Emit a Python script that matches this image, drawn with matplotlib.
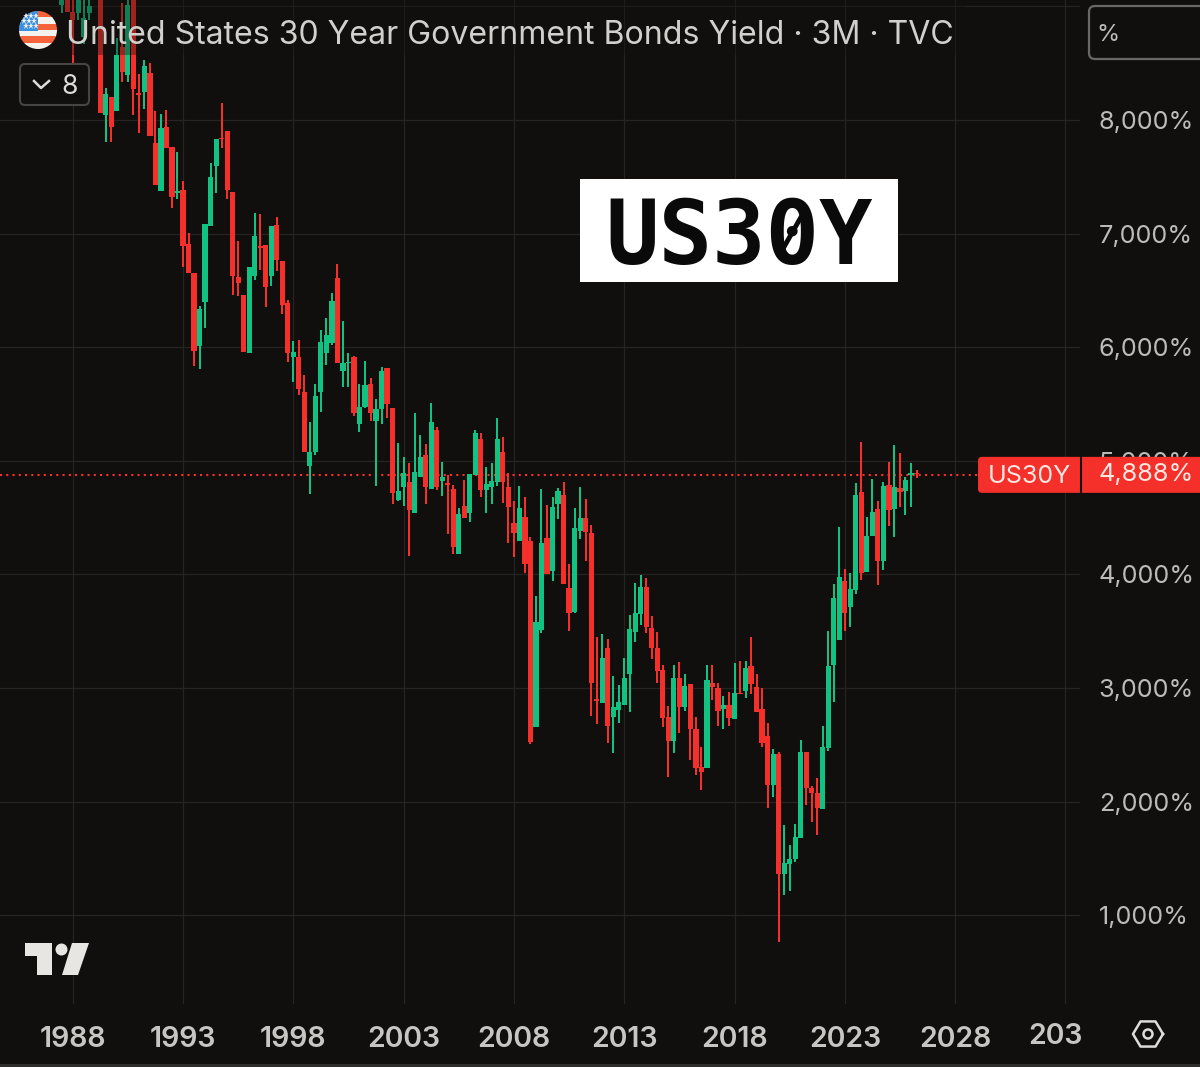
import numpy as np
import matplotlib
matplotlib.use("Agg")
import matplotlib.pyplot as plt
from matplotlib.patches import Rectangle, FancyBboxPatch, Circle, Polygon

title = "United States 30 Year Government Bonds Yield · 3M · TVC"
start_year = 1987.5
opens = [9.01,9.40,8.95,8.94,8.73,8.94,9.20,9.50,8.044,8.205,8.079,8.645,8.396,9.20,8.234,8.243,8.416,7.794,7.375,7.941,7.759,7.354,7.384,6.908,6.656,
6.010,6.401,7.067,7.598,7.844,7.906,7.369,6.621,6.459,5.952,6.627,6.894,6.900,6.627,7.076,6.762,6.386,5.911,5.917,5.608,
4.957,5.074,5.602,5.945,6.033,6.606,5.793,5.857,5.916,5.323,5.470,5.673,5.353,5.453,5.813,5.461,4.655,4.766,4.816,4.537,4.860,5.051,4.754,5.271,4.819,
4.807,4.748,4.176,4.605,4.543,4.875,5.188,4.743,4.772,4.816,5.074,4.766,
4.450,4.297,4.508,4.297,2.660,3.511,4.318,4.033,4.620,4.699,3.877,3.666,4.385,4.494,4.362,2.900,2.871,3.349,2.742,2.807,2.851,3.123,3.496,3.652,3.892,3.531,3.355,3.159,2.748,
2.537,3.085,2.836,3.032,2.636,2.302,2.299,3.047,3.003,2.815,2.848,2.724,2.959,2.977,3.197,3.006,2.818,
2.578,2.143,2.419,1.363,1.451,1.492,1.680,2.440,2.117,2.079,1.935,2.469,3.203,3.423,3.942,3.710,3.863,4.728,4.018,4.341,4.573,4.121,4.784,4.573,4.758,4.734,4.875,4.896]
highs = [9.50,9.60,9.10,9.30,9.10,9.20,9.60,9.60,8.278,8.205,8.719,9.03,9.20,9.30,8.405,8.528,8.504,8.079,8.053,8.088,7.759,7.721,7.463,7.008,6.656,
6.363,7.084,7.618,7.830,8.152,7.906,7.369,6.935,6.459,6.709,7.184,7.172,6.900,7.070,7.149,6.762,6.415,6.058,6.063,5.755,
5.338,5.676,6.151,6.254,6.474,6.732,6.233,5.945,5.922,5.673,5.881,5.725,5.543,5.822,5.813,5.461,5.153,5.036,4.983,5.417,5.227,5.145,5.511,5.300,4.992,
4.875,4.787,4.581,4.831,4.883,5.271,5.247,4.948,4.977,5.379,5.212,4.895,
4.649,4.778,4.684,4.332,3.810,4.749,4.611,4.678,4.758,4.816,4.089,4.587,4.772,4.661,4.435,3.446,3.475,3.431,3.106,3.027,3.261,3.643,3.921,3.992,3.965,3.637,3.496,3.203,2.842,
3.203,3.232,3.120,3.032,2.748,2.484,3.203,3.203,3.041,2.930,2.968,3.217,3.241,3.238,3.452,3.120,2.997,
2.689,2.460,2.440,1.794,1.618,1.800,2.542,2.440,2.140,2.211,2.669,3.502,3.915,4.420,4.045,4.009,4.802,5.162,4.502,4.837,4.649,4.816,4.992,5.139,5.066,4.860,4.984,4.919]
lows = [8.94,8.95,8.50,8.88,8.67,8.88,9.06,8.064,7.809,7.809,8.079,8.337,8.337,8.044,7.882,8.094,7.859,7.428,7.375,7.750,7.222,7.301,6.709,6.650,5.837,
5.808,6.166,7.067,7.354,7.750,7.304,6.459,6.451,5.961,5.952,6.591,6.679,6.351,6.539,6.674,6.292,5.867,5.697,5.579,5.080,
4.707,5.051,5.426,5.843,6.019,5.857,5.652,5.646,5.394,5.250,5.461,5.353,4.778,5.323,5.373,4.619,4.649,4.602,4.162,4.537,4.860,4.619,4.754,4.743,4.690,
4.355,4.179,4.176,4.493,4.464,4.875,4.678,4.537,4.619,4.778,4.625,4.279,
4.150,4.297,4.015,2.507,2.660,3.487,4.004,3.945,4.485,3.916,3.505,3.657,4.309,4.121,2.754,2.683,2.865,2.513,2.431,2.689,2.851,2.792,3.408,3.555,3.481,3.252,3.041,2.660,2.214,
2.431,2.607,2.801,2.366,2.234,2.103,2.293,2.895,2.666,2.642,2.666,2.724,2.947,2.915,2.947,2.792,2.478,
1.941,2.038,0.764,1.178,1.210,1.471,1.680,1.970,1.823,1.706,1.935,2.449,2.880,3.423,3.502,3.540,3.827,3.951,4.018,4.341,3.907,4.039,4.426,4.332,4.596,4.523,4.590,4.846]
closes = [9.30,8.95,8.88,9.20,8.90,9.00,9.40,8.064,8.226,7.941,8.572,8.425,9.012,8.27,8.220,8.475,7.859,7.428,7.932,7.750,7.325,7.375,6.891,6.650,5.969,
6.333,7.084,7.495,7.830,7.830,7.384,6.627,6.568,5.961,6.709,6.979,6.870,6.527,7.070,6.767,6.371,5.952,5.955,5.629,5.080,
5.074,5.573,6.048,6.107,6.409,5.857,5.857,5.872,5.417,5.476,5.667,5.417,5.453,5.793,5.499,4.713,4.737,4.895,4.566,4.904,5.030,4.772,5.344,4.766,4.854,
4.789,4.244,4.531,4.493,4.883,5.241,4.743,4.792,4.825,5.188,4.816,4.596,
4.362,4.582,4.089,2.528,3.584,4.274,4.004,4.596,4.737,3.916,3.663,4.406,4.494,4.370,3.047,2.889,3.261,2.666,2.830,2.880,3.091,3.519,3.657,3.892,3.534,3.349,3.150,2.733,2.537,
3.085,2.836,3.021,2.642,2.299,2.261,3.071,3.012,2.798,2.851,2.739,2.959,2.947,3.173,3.035,2.792,2.513,
2.143,2.419,1.363,1.457,1.492,1.686,2.440,2.117,2.079,1.941,2.478,3.194,3.789,3.980,3.663,3.868,4.699,4.015,4.341,4.552,4.121,4.778,4.567,4.766,4.722,4.831,4.890,4.884]
year_ticks = [1988, 1993, 1998, 2003, 2008, 2013, 2018, 2023, 2028, 2033]
year_labels = ["1988", "1993", "1998", "2003", "2008", "2013", "2018", "2023", "2028", ""]
price_ticks = [1, 2, 3, 4, 5, 6, 7, 8, 9]
price_labels = ["1,000%", "2,000%", "3,000%", "4,000%", "5,000%", "6,000%", "7,000%", "8,000%", ""]
last_price = 4.876

BG = "#110f0d"; GRID = "#262422"; RED = "#f5302a"; GREEN = "#12c283"; TXT = "#bdbbb7"
FONT = "Inter"
W, H = 1200, 1067
fig = plt.figure(figsize=(W/100, H/100), dpi=100, facecolor=BG)
ax = fig.add_axes([0, (H-1004)/H, 1080/W, 1004/H], facecolor=BG)
ax.set_xlim(1984.704, 2033.661)
ax.set_ylim(0.218, 9.056)
for s in ax.spines.values():
    s.set_visible(False)
ax.set_xticks(year_ticks, year_labels)
ax.yaxis.tick_right()
ax.set_yticks(price_ticks, price_labels)
ax.grid(True, color=GRID, lw=0.9)
ax.set_axisbelow(True)
ax.tick_params(axis="x", length=0, pad=16, labelsize=20.5, labelcolor="#c8c6c2")
ax.tick_params(axis="y", length=0, pad=13.5, labelsize=18.2, labelcolor=TXT)
for l in ax.get_xticklabels():
    l.set_fontfamily(FONT); l.set_fontweight("semibold")
for l in ax.get_yticklabels():
    l.set_fontfamily(FONT)

o, h, l, c = map(np.array, (opens, highs, lows, closes))
t = start_year + np.arange(len(o)) / 4
col = np.where(c >= o, GREEN, RED)
ax.vlines(t, l, h, colors=col, lw=1.45, zorder=3)
ax.bar(t, np.abs(c - o), bottom=np.minimum(o, c), width=0.235, color=col, zorder=3, linewidth=0)
ax.plot([1984.704, 2029.0], [last_price]*2, color=RED, lw=1.5, ls=(0, (1, 2)), zorder=2)

# overlay in pixel coordinates for the interface furniture
ov = fig.add_axes([0, 0, 1, 1], facecolor="none", zorder=5)
ov.set_xlim(0, W); ov.set_ylim(H, 0); ov.axis("off")
ov.add_patch(Rectangle((0, 0), 965, 55, fc=BG, ec="none", alpha=0.38))
# flag
clipc = Circle((38, 30), 19, transform=ov.transData)
for i, yy in enumerate(np.linspace(11, 49, 7)[:-1]):
    r = ov.add_patch(Rectangle((15, yy), 46, 38/6+.5, fc="#f4633a" if i % 2 == 0 else "#f4f2ee", ec="none"))
    r.set_clip_path(clipc)
r = ov.add_patch(Rectangle((15, 11), 23, 20, fc="#3a8fe0", ec="none")); r.set_clip_path(clipc)
sx = [26, 31, 36, 24, 29, 34, 26, 31, 36]
sy = [16, 16, 16, 21, 21, 21, 26, 26, 26]
for a, b in zip(sx, sy):
    ov.plot(a, b, marker="*", ms=4.5, color="#f4f2ee", mew=0)
ov.text(66, 35, title, color="#d2d0cc", fontsize=23.1, family=FONT, va="center", ha="left")
# collapsed-indicators button
ov.add_patch(FancyBboxPatch((20, 64), 69, 41, boxstyle="round,pad=0,rounding_size=5", fc=BG, ec="#474542", lw=1.5))
ov.plot([34, 41, 49], [81, 88, 81], color="#dedcd8", lw=1.8)
ov.text(70, 87, "8", color="#dedcd8", fontsize=19, family=FONT, va="center", ha="center")
# % box
ov.add_patch(FancyBboxPatch((1089, 6), 140, 53, boxstyle="round,pad=0,rounding_size=6", fc=BG, ec="#6a6864", lw=1.6))
ov.text(1108, 35, "%", color=TXT, fontsize=17, family=FONT, va="center", ha="center")
# US30Y card
ov.add_patch(Rectangle((580, 179), 318, 103, fc="white", ec="none"))
ov.text(739, 239, "US30Y", color="#0a0a0a", fontsize=64, family="DejaVu Sans Mono", weight="bold", va="center", ha="center")
ov.plot([780, 805], [254, 210], color="#0a0a0a", lw=3.5)
# last-price tag
y_last = (9.056 - last_price) * 113.6
ov.add_patch(FancyBboxPatch((978, y_last-18), 240, 36, boxstyle="round,pad=0,rounding_size=4", fc=RED, ec="none"))
ov.plot([1080.5, 1080.5], [y_last-18, y_last+18], color=BG, lw=1.5)
ov.text(1029, y_last+2, "US30Y", color="#fbe6e0", fontsize=18, family=FONT, va="center", ha="center")
ov.text(1146, y_last, "4,888%", color="#fbe6e0", fontsize=18.2, family=FONT, va="center", ha="center")
# truncated last time label
ov.text(1055, 1036, "203", color="#c8c6c2", fontsize=20.5, family=FONT, weight="semibold", va="center", ha="center")
# logo
LG = "#e8e6e3"
ov.add_patch(Polygon([(25, 943), (52, 943), (52, 975), (37, 975), (37, 956), (25, 956)], fc=LG, ec="none"))
ov.add_patch(Circle((61.5, 949.5), 6, fc=LG, ec="none"))
ov.add_patch(Polygon([(72, 943), (89, 943), (78, 975), (62, 975)], fc=LG, ec="none"))
# settings hexagon
ang = np.deg2rad(np.arange(0, 361, 60))
ov.plot(1148 + 15*np.cos(ang), 1034 + 14.5*np.sin(ang), color="#dedcd8", lw=1.8)
ov.add_patch(Circle((1148, 1034), 4.5, fc="none", ec="#dedcd8", lw=1.8))
ov.add_patch(Rectangle((0, 1063.5), W, 4, fc="#2e2d2b", ec="none"))
fig.savefig("out.png", dpi=100, facecolor=BG)
